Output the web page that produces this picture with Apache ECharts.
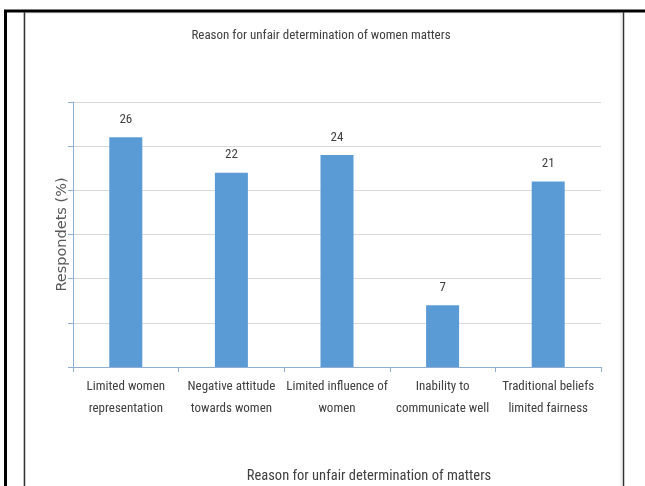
<!DOCTYPE html>
<html><head><meta charset="utf-8">
<script src="https://cdn.jsdelivr.net/npm/echarts@6/dist/echarts.min.js"></script>
<style>html,body{margin:0;padding:0;background:#fff}#c{width:645px;height:486px}</style>
</head><body><div id="c"></div>
<script>
const categories = ["Limited women\nrepresentation", "Negative attitude\ntowards women", "Limited influence of\nwomen", "Inability to\ncommunicate well", "Traditional beliefs\nlimited fairness"];
const values = [26, 22, 24, 7, 21];
const chartTitle = "Reason for unfair determination of women matters";
const xTitle = "Reason for unfair determination of matters";
const yTitle = "Respondets (%)";

const FONT = "'Liberation Sans Narrow', 'Roboto Condensed', Roboto, sans-serif";
const chart = echarts.init(document.getElementById('c'), null, {renderer: 'canvas'});
chart.setOption({
  animation: false,
  backgroundColor: '#fff',
  title: [
    {text: chartTitle, left: 316, top: 24, textAlign: 'center',
     textStyle: {fontFamily: FONT, fontSize: 13, fontWeight: 'normal', color: '#404040'}},
    {text: xTitle, left: 364, top: 464, textAlign: 'center',
     textStyle: {fontFamily: FONT, fontSize: 14.5, fontWeight: 'normal', color: '#404040'}}
  ],
  graphic: [
    {type: 'rect', shape: {x: 24, y: 13, width: 597, height: 480}, style: {fill: 'none', stroke: '#e3e3e3', lineWidth: 1}, silent: true},
    {type: 'line', shape: {x1: 4, y1: 11, x2: 645, y2: 11}, style: {stroke: '#000', lineWidth: 3}, silent: true},
    {type: 'line', shape: {x1: 5.5, y1: 10, x2: 5.5, y2: 486}, style: {stroke: '#000', lineWidth: 3}, silent: true},
    {type: 'line', shape: {x1: 24.5, y1: 12, x2: 24.5, y2: 486}, style: {stroke: '#333', lineWidth: 1.5}, silent: true},
    {type: 'line', shape: {x1: 623.5, y1: 12, x2: 623.5, y2: 486}, style: {stroke: '#333', lineWidth: 1.5}, silent: true}
  ],
  grid: {left: 73, right: 44, top: 102, bottom: 119},
  xAxis: {
    type: 'category', data: categories,
    axisLine: {lineStyle: {color: '#8eaed3', width: 1}},
    axisTick: {show: true, length: 5, lineStyle: {color: '#8eaed3'}},
    axisLabel: {color: '#404040', fontFamily: FONT, fontSize: 13, lineHeight: 22, margin: 9, interval: 0}
  },
  yAxis: {
    type: 'value', min: 0, max: 30, interval: 5,
    name: yTitle, nameLocation: 'middle', nameGap: 3, nameRotate: 90,
    nameTextStyle: {fontFamily: 'DejaVu Sans', fontSize: 14.5, color: '#595959'},
    axisLine: {show: true, lineStyle: {color: '#8eaed3', width: 1}},
    axisTick: {show: true, length: 5, lineStyle: {color: '#8eaed3'}},
    axisLabel: {show: false},
    splitLine: {lineStyle: {color: '#d9d9d9', width: 1}}
  },
  series: [{
    type: 'bar', data: values, barWidth: 33,
    itemStyle: {color: '#5b9bd5'},
    label: {show: true, position: 'top', distance: 11, color: '#404040', fontFamily: FONT, fontSize: 13}
  }]
});
</script></body></html>
